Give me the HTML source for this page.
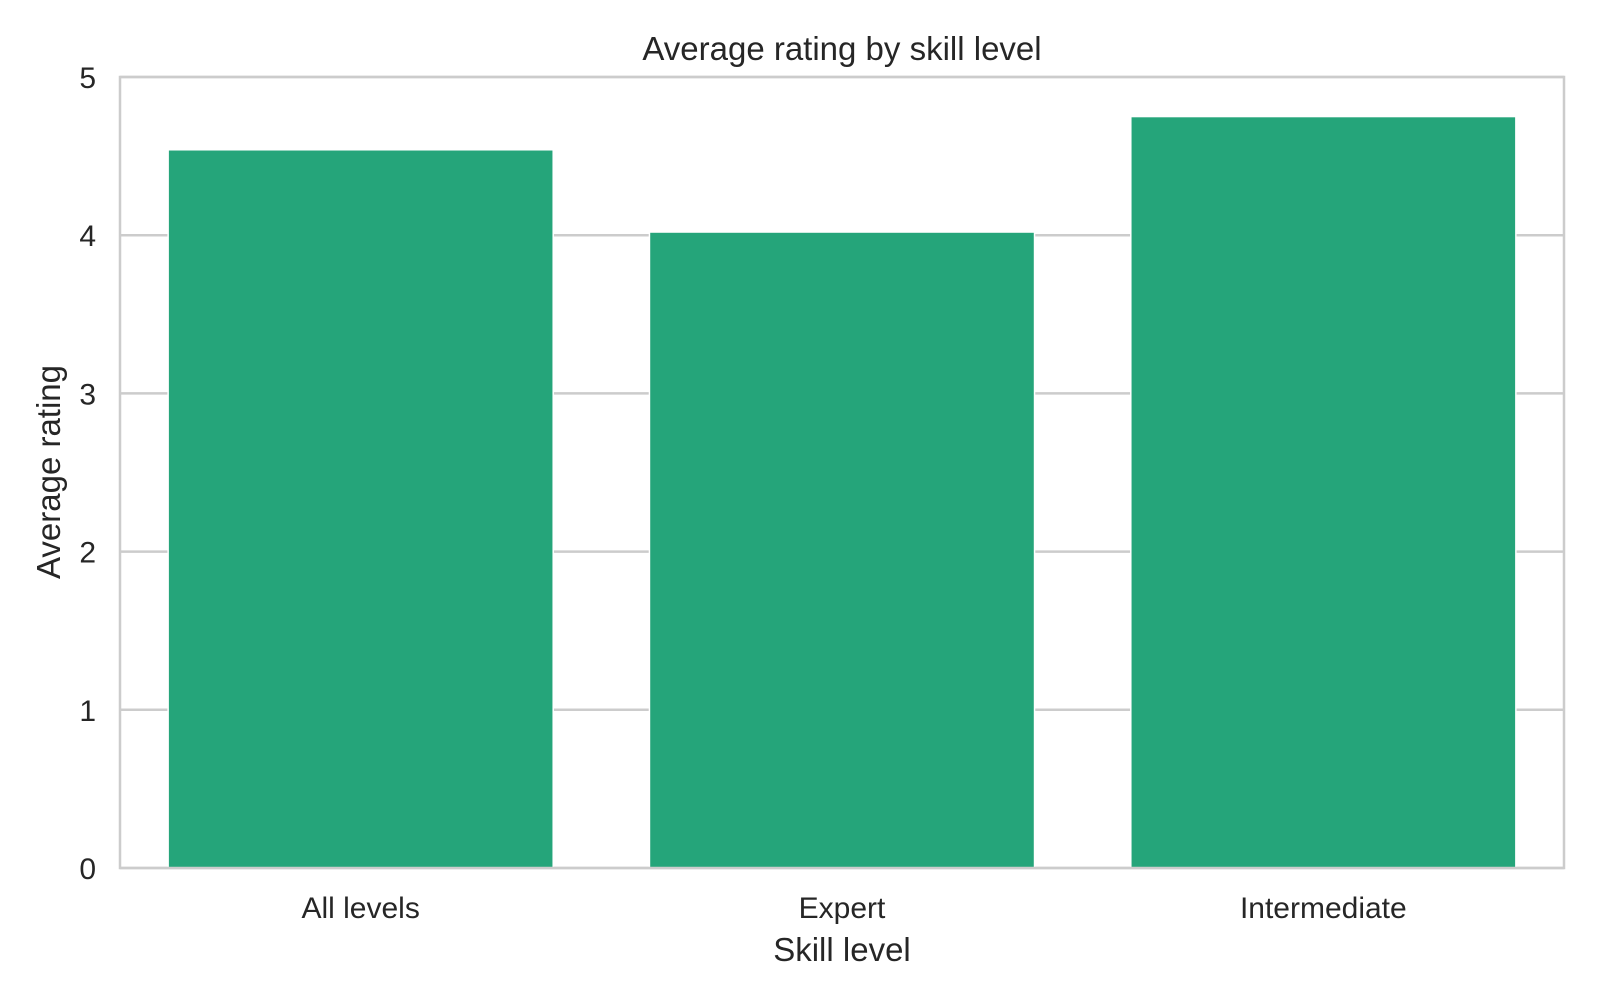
<!DOCTYPE html>
<html><head><meta charset="utf-8"><style>
body{margin:0;background:#fff;}
text{font-family:"Liberation Sans",sans-serif;fill:#262626;}
</style></head><body>
<svg width="1600" height="1000">
<g id="grid"></g><g id="bars"></g><g id="ticks"></g>
<rect x="120" y="77" width="1444" height="791" fill="none" stroke="#cccccc" stroke-width="2.5"/>
<text x="842" y="60" font-size="33" text-anchor="middle">Average rating by skill level</text>
<text x="842" y="961" font-size="33" text-anchor="middle">Skill level</text>
<text x="60" y="472" font-size="33" text-anchor="middle" transform="rotate(-90 60 472)">Average rating</text>
</svg>
<script>
const categories=["All levels","Expert","Intermediate"];
const values=[4.54,4.02,4.75];
const yTicks=[0,1,2,3,4,5];
const L=120,R=1564,T=77,B=868,yMax=5;
const ns="http://www.w3.org/2000/svg";
function y(v){return B-(v/yMax)*(B-T);}
const bw=(R-L)/categories.length;
function x(i){return L+bw*i+bw/2;}
function mk(t,a,p){const e=document.createElementNS(ns,t);for(const k in a)e.setAttribute(k,a[k]);p.appendChild(e);return e;}
const g=document.getElementById('grid'),b=document.getElementById('bars'),tk=document.getElementById('ticks');
yTicks.forEach(v=>{
 const l=mk('line',{x1:L,x2:R,y1:y(v),y2:y(v),stroke:'#cccccc','stroke-width':2.5},g);
 
 
 const t=mk('text',{x:L-24,y:y(v)+11,'font-size':30,'text-anchor':'end'},tk);
 t.textContent=v;
 
 
});
categories.forEach((c,i)=>{
 const w=bw*0.8;
 const r=mk('rect',{x:x(i)-w/2,y:y(values[i]),width:w,height:B-y(values[i]),fill:'#25a57a',stroke:'#ffffff','stroke-width':1.5},b);
 
 
 const t=mk('text',{x:x(i),y:918,'font-size':30,'text-anchor':'middle'},tk);
 t.textContent=c;
 
 
});
</script>
</body></html>
